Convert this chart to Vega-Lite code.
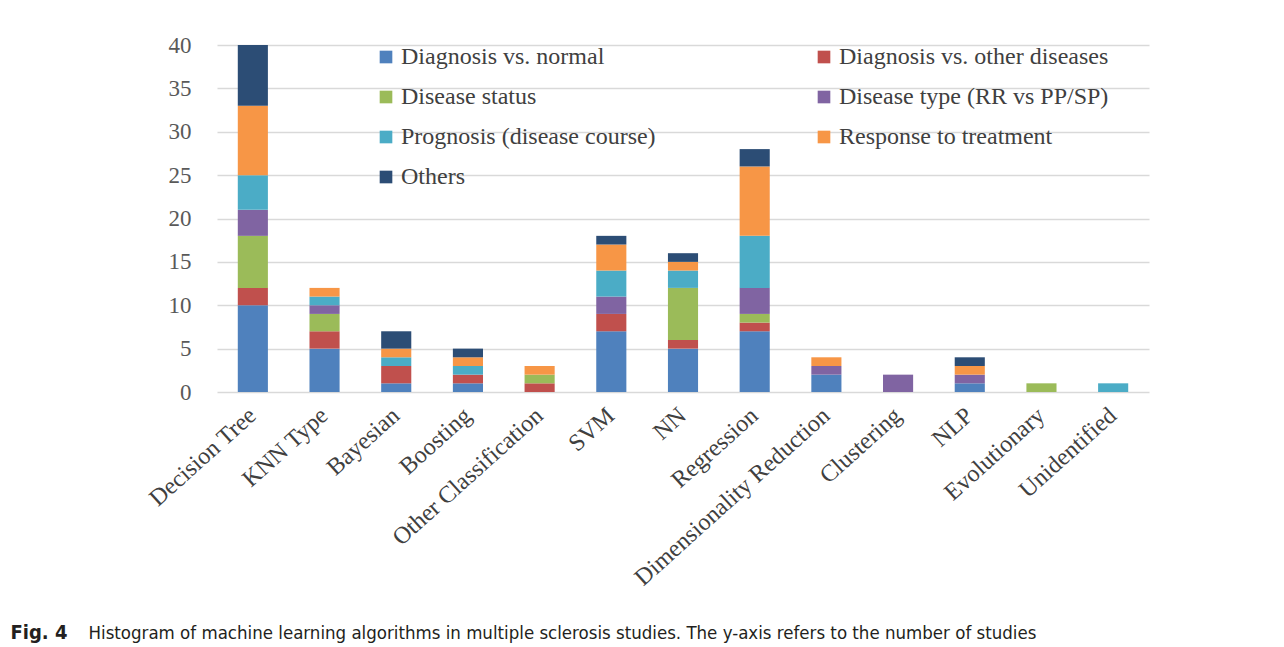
{
  "$schema": "https://vega.github.io/schema/vega-lite/v6.json",
  "width": 932,
  "height": 347,
  "autosize": {"type": "none"},
  "padding": {"left": 217, "top": 45, "right": 135, "bottom": 255},
  "background": "white",
  "data": {
    "values": [
      {"alg": "Decision Tree", "cls": "Diagnosis vs. normal", "k": 1, "n": 10},
      {"alg": "Decision Tree", "cls": "Diagnosis vs. other diseases", "k": 2, "n": 2},
      {"alg": "Decision Tree", "cls": "Disease status", "k": 3, "n": 6},
      {"alg": "Decision Tree", "cls": "Disease type (RR vs PP/SP)", "k": 4, "n": 3},
      {"alg": "Decision Tree", "cls": "Prognosis (disease course)", "k": 5, "n": 4},
      {"alg": "Decision Tree", "cls": "Response to treatment", "k": 6, "n": 8},
      {"alg": "Decision Tree", "cls": "Others", "k": 7, "n": 7},
      {"alg": "KNN Type", "cls": "Diagnosis vs. normal", "k": 1, "n": 5},
      {"alg": "KNN Type", "cls": "Diagnosis vs. other diseases", "k": 2, "n": 2},
      {"alg": "KNN Type", "cls": "Disease status", "k": 3, "n": 2},
      {"alg": "KNN Type", "cls": "Disease type (RR vs PP/SP)", "k": 4, "n": 1},
      {"alg": "KNN Type", "cls": "Prognosis (disease course)", "k": 5, "n": 1},
      {"alg": "KNN Type", "cls": "Response to treatment", "k": 6, "n": 1},
      {"alg": "Bayesian", "cls": "Diagnosis vs. normal", "k": 1, "n": 1},
      {"alg": "Bayesian", "cls": "Diagnosis vs. other diseases", "k": 2, "n": 2},
      {"alg": "Bayesian", "cls": "Prognosis (disease course)", "k": 5, "n": 1},
      {"alg": "Bayesian", "cls": "Response to treatment", "k": 6, "n": 1},
      {"alg": "Bayesian", "cls": "Others", "k": 7, "n": 2},
      {"alg": "Boosting", "cls": "Diagnosis vs. normal", "k": 1, "n": 1},
      {"alg": "Boosting", "cls": "Diagnosis vs. other diseases", "k": 2, "n": 1},
      {"alg": "Boosting", "cls": "Prognosis (disease course)", "k": 5, "n": 1},
      {"alg": "Boosting", "cls": "Response to treatment", "k": 6, "n": 1},
      {"alg": "Boosting", "cls": "Others", "k": 7, "n": 1},
      {"alg": "Other Classification", "cls": "Diagnosis vs. other diseases", "k": 2, "n": 1},
      {"alg": "Other Classification", "cls": "Disease status", "k": 3, "n": 1},
      {"alg": "Other Classification", "cls": "Response to treatment", "k": 6, "n": 1},
      {"alg": "SVM", "cls": "Diagnosis vs. normal", "k": 1, "n": 7},
      {"alg": "SVM", "cls": "Diagnosis vs. other diseases", "k": 2, "n": 2},
      {"alg": "SVM", "cls": "Disease type (RR vs PP/SP)", "k": 4, "n": 2},
      {"alg": "SVM", "cls": "Prognosis (disease course)", "k": 5, "n": 3},
      {"alg": "SVM", "cls": "Response to treatment", "k": 6, "n": 3},
      {"alg": "SVM", "cls": "Others", "k": 7, "n": 1},
      {"alg": "NN", "cls": "Diagnosis vs. normal", "k": 1, "n": 5},
      {"alg": "NN", "cls": "Diagnosis vs. other diseases", "k": 2, "n": 1},
      {"alg": "NN", "cls": "Disease status", "k": 3, "n": 6},
      {"alg": "NN", "cls": "Prognosis (disease course)", "k": 5, "n": 2},
      {"alg": "NN", "cls": "Response to treatment", "k": 6, "n": 1},
      {"alg": "NN", "cls": "Others", "k": 7, "n": 1},
      {"alg": "Regression", "cls": "Diagnosis vs. normal", "k": 1, "n": 7},
      {"alg": "Regression", "cls": "Diagnosis vs. other diseases", "k": 2, "n": 1},
      {"alg": "Regression", "cls": "Disease status", "k": 3, "n": 1},
      {"alg": "Regression", "cls": "Disease type (RR vs PP/SP)", "k": 4, "n": 3},
      {"alg": "Regression", "cls": "Prognosis (disease course)", "k": 5, "n": 6},
      {"alg": "Regression", "cls": "Response to treatment", "k": 6, "n": 8},
      {"alg": "Regression", "cls": "Others", "k": 7, "n": 2},
      {"alg": "Dimensionality Reduction", "cls": "Diagnosis vs. normal", "k": 1, "n": 2},
      {"alg": "Dimensionality Reduction", "cls": "Disease type (RR vs PP/SP)", "k": 4, "n": 1},
      {"alg": "Dimensionality Reduction", "cls": "Response to treatment", "k": 6, "n": 1},
      {"alg": "Clustering", "cls": "Disease type (RR vs PP/SP)", "k": 4, "n": 2},
      {"alg": "NLP", "cls": "Diagnosis vs. normal", "k": 1, "n": 1},
      {"alg": "NLP", "cls": "Disease type (RR vs PP/SP)", "k": 4, "n": 1},
      {"alg": "NLP", "cls": "Response to treatment", "k": 6, "n": 1},
      {"alg": "NLP", "cls": "Others", "k": 7, "n": 1},
      {"alg": "Evolutionary", "cls": "Disease status", "k": 3, "n": 1},
      {"alg": "Unidentified", "cls": "Prognosis (disease course)", "k": 5, "n": 1}
    ]
  },
  "mark": {"type": "bar", "stroke": null},
  "encoding": {
    "x": {
      "field": "alg",
      "type": "nominal",
      "sort": ["Decision Tree", "KNN Type", "Bayesian", "Boosting", "Other Classification", "SVM", "NN", "Regression", "Dimensionality Reduction", "Clustering", "NLP", "Evolutionary", "Unidentified"],
      "scale": {"paddingInner": 0.58, "paddingOuter": 0.29},
      "axis": {
        "labelAngle": -42,
        "labelAlign": "right",
        "labelBaseline": "middle",
        "labelFont": "Liberation Serif",
        "labelFontSize": 24,
        "labelColor": "#404040",
        "labelPadding": 20,
        "ticks": false,
        "domain": false,
        "title": "Histogram of machine learning algorithms in multiple sclerosis studies. The y-axis refers to the number of studies",
        "titleFont": "DejaVu Sans Condensed",
        "titleFontSize": 18.5,
        "titleFontWeight": "normal",
        "titleColor": "#231f20",
        "titleAlign": "left",
        "titleAnchor": "start",
        "titleBaseline": "alphabetic",
        "titleX": -129,
        "titleY": 246,
        "labelLimit": 400
      }
    },
    "y": {
      "field": "n",
      "type": "quantitative",
      "aggregate": "sum",
      "scale": {"domain": [0, 40], "nice": false},
      "axis": {
        "values": [0, 5, 10, 15, 20, 25, 30, 35, 40],
        "labelFont": "Liberation Serif",
        "labelFontSize": 23,
        "labelColor": "#595959",
        "labelPadding": 26,
        "ticks": false,
        "domain": false,
        "grid": true,
        "gridColor": "#d9d9d9",
        "gridWidth": 1.5,
        "title": "Fig. 4",
        "titleFont": "DejaVu Sans Condensed",
        "titleFontSize": 20,
        "titleFontWeight": "bold",
        "titleColor": "#231f20",
        "titleAngle": 0,
        "titleAlign": "left",
        "titleBaseline": "alphabetic",
        "titleX": -207,
        "titleY": 593
      }
    },
    "color": {
      "field": "cls",
      "type": "nominal",
      "scale": {
        "domain": ["Diagnosis vs. normal", "Diagnosis vs. other diseases", "Disease status", "Disease type (RR vs PP/SP)", "Prognosis (disease course)", "Response to treatment", "Others"],
        "range": ["#4f81bd", "#c0504d", "#9bbb59", "#8064a2", "#4bacc6", "#f79646", "#2c4d75"]
      },
      "legend": {
        "title": null,
        "orient": "none",
        "legendX": 157,
        "legendY": 0,
        "columns": 2,
        "direction": "horizontal",
        "columnPadding": 156,
        "rowPadding": 16,
        "symbolType": "square",
        "symbolSize": 160,
        "symbolStrokeWidth": 0,
        "labelFont": "Liberation Serif",
        "labelFontSize": 24,
        "labelColor": "#404040",
        "labelOffset": 3,
        "labelLimit": 400
      }
    },
    "order": {"field": "k", "type": "quantitative"}
  },
  "config": {"view": {"stroke": null}, "legend": {"labelFont": "Liberation Serif"}}
}
